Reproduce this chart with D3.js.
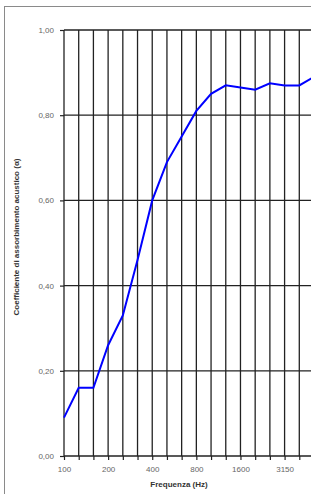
<!DOCTYPE html>
<html>
<head>
<meta charset="utf-8">
<script src="https://cdn.jsdelivr.net/npm/d3@7"></script>
<style>
  body { margin: 0; overflow: hidden; background: #fff; }
</style>
</head>
<body>
<div id="chart"></div>
<script>
// 1/3 octave bands (Hz) and absorption coefficient
const freqs = ["100","125","160","200","250","315","400","500","630","800","1000","1250","1600","2000","2500","3150","4000","5000"];
const alpha = [0.09,0.16,0.16,0.26,0.33,0.46,0.60,0.69,0.75,0.81,0.85,0.87,0.865,0.86,0.875,0.87,0.87,0.89];
const yTicks = [0, 0.2, 0.4, 0.6, 0.8, 1.0];
const xLabels = ["100","200","400","800","1600","3150"];

const width = 330;
const height = 494;

const locale = d3.formatLocale({decimal: ",", thousands: ".", grouping: [3], currency: ["", "€"]});
const fmt = locale.format(".2f");

const x = d3.scalePoint().domain(freqs).range([64, 314]);
const y = d3.scaleLinear().domain([0, 1]).range([456, 30]);

const svg = d3.select("#chart").append("svg")
    .attr("width", width)
    .attr("height", height)
    .attr("font-family", "'Liberation Sans', Arial, sans-serif");

// outer chart frame
svg.append("rect")
    .attr("x", 4.5).attr("y", 6.5)
    .attr("width", 400).attr("height", 600)
    .attr("fill", "none")
    .attr("stroke", "#8a8a8a")
    .attr("stroke-width", 1);

// vertical gridlines, one per band
svg.append("g")
  .selectAll("line")
  .data(freqs)
  .join("line")
    .attr("x1", d => x(d)).attr("x2", d => x(d))
    .attr("y1", y(1)).attr("y2", y(0))
    .attr("stroke", "#222")
    .attr("stroke-width", 1.3);

// horizontal gridlines
svg.append("g")
  .selectAll("line")
  .data(yTicks)
  .join("line")
    .attr("x1", x(freqs[0])).attr("x2", width)
    .attr("y1", d => y(d)).attr("y2", d => y(d))
    .attr("stroke", "#222")
    .attr("stroke-width", 1.3);

// y axis
const yAxis = svg.append("g")
    .attr("transform", `translate(${x(freqs[0])},0)`)
    .call(d3.axisLeft(y).tickValues(yTicks).tickFormat(fmt).tickSize(4).tickPadding(6));
yAxis.select(".domain").remove();
yAxis.selectAll(".tick line").attr("stroke", "#222").attr("stroke-width", 1.2);
yAxis.selectAll("text").attr("fill", "#666").attr("font-size", 8);

// x axis
const xAxis = svg.append("g")
    .attr("transform", `translate(0,${y(0)})`)
    .call(d3.axisBottom(x).tickSize(4).tickPadding(6)
        .tickFormat(d => xLabels.includes(d) ? d : ""));
xAxis.select(".domain").remove();
xAxis.selectAll(".tick line").attr("stroke", "#222").attr("stroke-width", 1.2);
xAxis.selectAll("text").attr("fill", "#666").attr("font-size", 8);

// axis titles
svg.append("text")
    .attr("x", 179).attr("y", 487)
    .attr("text-anchor", "middle")
    .attr("font-size", 8)
    .attr("font-weight", "bold")
    .attr("fill", "#333")
    .text("Frequenza (Hz)");

svg.append("text")
    .attr("transform", `translate(19,237) rotate(-90)`)
    .attr("text-anchor", "middle")
    .attr("font-size", 8)
    .attr("font-weight", "bold")
    .attr("fill", "#333")
    .text("Coefficiente di assorbimento acustico (α)");

// absorption curve
const line = d3.line()
    .x((d, i) => x(freqs[i]))
    .y(d => y(d));

svg.append("path")
    .datum(alpha)
    .attr("d", line)
    .attr("fill", "none")
    .attr("stroke", "#0000ff")
    .attr("stroke-width", 2);
</script>
</body>
</html>
